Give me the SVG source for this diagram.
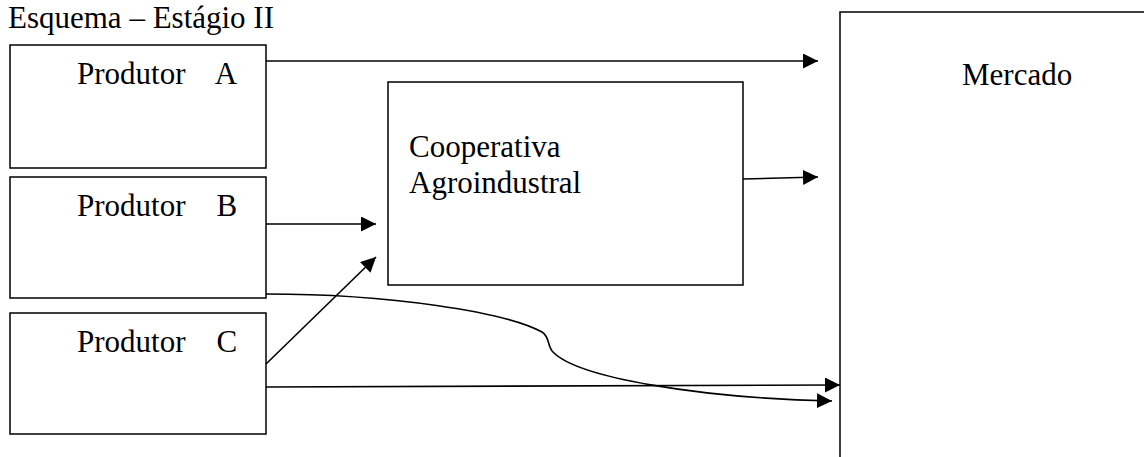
<svg xmlns="http://www.w3.org/2000/svg" width="1144" height="457" viewBox="0 0 1144 457">
  <style>
    .box { fill: #fff; stroke: #000; stroke-width: 1.5; }
    .lbl { font-family: "Liberation Serif", "Times New Roman", serif; font-size: 31px; fill: #000; }
    .con { fill: none; stroke: #000; stroke-width: 1.6; }
  </style>
  <defs>
    <marker id="arr" markerUnits="userSpaceOnUse" markerWidth="16" markerHeight="16" refX="15" refY="7.5" orient="auto">
      <path d="M0,0 L15,7.5 L0,15 z" fill="#000"/>
    </marker>
  </defs>
  <rect width="1144" height="457" fill="#fff"/>
  <text class="lbl" x="8" y="28">Esquema – Estágio II</text>

  <g id="mercado">
    <rect class="box" x="840" y="12" width="330" height="470"/>
    <text class="lbl" x="962" y="85">Mercado</text>
  </g>
  <g id="produtorA">
    <rect class="box" x="10" y="45" width="256" height="123"/>
    <text class="lbl" x="77" y="84" xml:space="preserve">Produtor    A</text>
  </g>
  <g id="produtorB">
    <rect class="box" x="10" y="177" width="256" height="121"/>
    <text class="lbl" x="77" y="216" xml:space="preserve">Produtor    B</text>
  </g>
  <g id="produtorC">
    <rect class="box" x="10" y="313" width="256" height="121"/>
    <text class="lbl" x="77" y="352" xml:space="preserve">Produtor    C</text>
  </g>
  <g id="cooperativa">
    <rect class="box" x="388" y="82" width="355" height="203"/>
    <text class="lbl" x="409" y="157">Cooperativa</text>
    <text class="lbl" x="409" y="193">Agroindustral</text>
  </g>

  <g id="connectors">
    <line class="con" x1="266" y1="61" x2="818" y2="61" marker-end="url(#arr)"/>
    <line class="con" x1="743" y1="179" x2="818" y2="177" marker-end="url(#arr)"/>
    <line class="con" x1="266" y1="224" x2="376" y2="224" marker-end="url(#arr)"/>
    <line class="con" x1="266" y1="364" x2="376" y2="257" marker-end="url(#arr)"/>
    <line class="con" x1="266" y1="387" x2="840" y2="385" marker-end="url(#arr)"/>
    <path class="con" d="M266,294 C390,294 505,312 542,332 C550,337 547,346 553,352 C578,378 700,398 832,401" marker-end="url(#arr)"/>
  </g>
</svg>
